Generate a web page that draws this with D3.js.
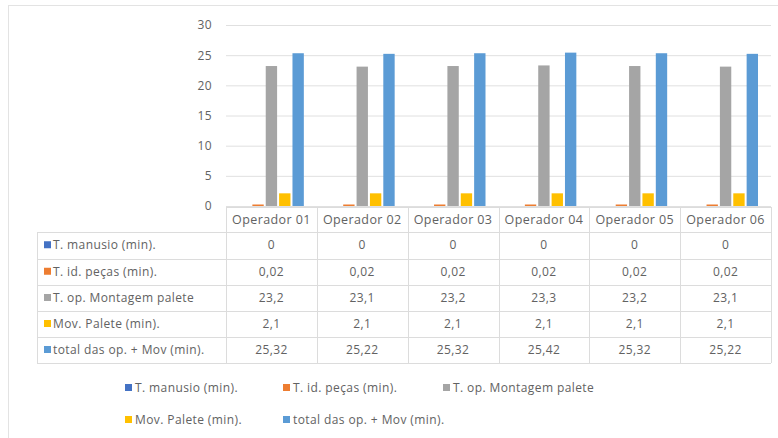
<!DOCTYPE html>
<html>
<head>
<meta charset="utf-8">
<script src="https://cdn.jsdelivr.net/npm/d3@7"></script>
<style>
  body { margin: 0; background: #fff; }
  text { font-family: "Open Sans", "Noto Sans", sans-serif; fill: #626262; letter-spacing: 0.4px; }
</style>
</head>
<body>
<div id="chart"></div>
<script>
// DATA
const operators = ["Operador 01", "Operador 02", "Operador 03", "Operador 04", "Operador 05", "Operador 06"]
const seriesNames = ["T. manusio (min).", "T. id. peças (min).", "T. op. Montagem palete", "Mov. Palete (min).", "total das op. + Mov (min)."]
const manusio = [0, 0, 0, 0, 0, 0]
const idPecas = [0.02, 0.02, 0.02, 0.02, 0.02, 0.02]
const montagem = [23.2, 23.1, 23.2, 23.3, 23.2, 23.1]
const movPalete = [2.1, 2.1, 2.1, 2.1, 2.1, 2.1]
const total = [25.32, 25.22, 25.32, 25.42, 25.32, 25.22]
const yTicks = [0, 5, 10, 15, 20, 25, 30]

const values = [manusio, idPecas, montagem, movPalete, total]
const colors = ["#4472c4", "#ed7d31", "#a5a5a5", "#ffc000", "#5b9bd5"]

const width = 778, height = 438

const svg = d3.select("#chart").append("svg")
    .attr("width", width)
    .attr("height", height)

// outer chart frame
svg.append("rect")
    .attr("x", 8.5).attr("y", 5.5)
    .attr("width", 800).attr("height", 500)
    .attr("fill", "none")
    .attr("stroke", "#e3e3e3")

// SCALES
const x0 = d3.scaleBand()
    .domain(operators)
    .range([226, 771])

const x1 = d3.scaleBand()
    .domain(seriesNames)
    .range([13, x0.bandwidth() - 13])
    .paddingInner(0.15)

const y = d3.scaleLinear()
    .domain([0, 30])
    .range([206, 25])

const color = d3.scaleOrdinal().domain(seriesNames).range(colors)

// GRIDLINES + Y AXIS
const yAxis = svg.append("g")
    .attr("transform", `translate(226,0)`)
    .call(d3.axisLeft(y).tickValues(yTicks).tickSize(-(771 - 226)).tickPadding(14))
yAxis.select(".domain").remove()
yAxis.selectAll(".tick line").attr("stroke", "#e0e0e0")
yAxis.selectAll(".tick text").attr("font-size", 12).style("fill", "#626262")
    .style("font-family", '"Open Sans", sans-serif')

// BARS
const groups = svg.append("g").selectAll("g")
    .data(operators)
    .join("g")
    .attr("transform", d => `translate(${x0(d)},0)`)

groups.selectAll("rect")
    .data((d, i) => seriesNames.map((s, k) => ({ s: s, v: values[k][i] })))
    .join("rect")
    .attr("x", d => x1(d.s))
    .attr("width", x1.bandwidth())
    .attr("y", d => d.v > 0 ? Math.min(y(d.v), y(0) - 1.5) : y(0))
    .attr("height", d => d.v > 0 ? Math.max(y(0) - y(d.v), 1.5) : 0)
    .attr("fill", d => color(d.s))

// DATA TABLE
const fmt = v => String(v).replace(".", ",")
const tableLeft = 37
const headerTop = 207
const rowTops = [232, 258.5, 285, 311, 337, 363]
const lineColor = "#dcdcdc"
const table = svg.append("g")

// header cells
table.selectAll(".hdr")
    .data(operators)
    .join("text")
    .attr("class", "hdr")
    .attr("x", d => x0(d) + x0.bandwidth() / 2)
    .attr("y", (headerTop + rowTops[0]) / 2 + 4)
    .attr("text-anchor", "middle")
    .attr("font-size", 12.5)
    .text(d => d)

// horizontal lines
table.append("line")
    .attr("x1", 226).attr("x2", 771)
    .attr("y1", headerTop + 0.5).attr("y2", headerTop + 0.5)
    .attr("stroke", lineColor)
table.selectAll(".hl")
    .data(rowTops)
    .join("line")
    .attr("x1", tableLeft).attr("x2", 771)
    .attr("y1", d => Math.round(d) + 0.5).attr("y2", d => Math.round(d) + 0.5)
    .attr("stroke", lineColor)

// vertical lines
const colEdges = operators.map(o => x0(o)).concat([771])
table.selectAll(".vl")
    .data(colEdges)
    .join("line")
    .attr("x1", d => Math.round(d) + 0.5).attr("x2", d => Math.round(d) + 0.5)
    .attr("y1", headerTop).attr("y2", rowTops[5])
    .attr("stroke", lineColor)
table.append("line")
    .attr("x1", tableLeft + 0.5).attr("x2", tableLeft + 0.5)
    .attr("y1", rowTops[0]).attr("y2", rowTops[5])
    .attr("stroke", lineColor)

// rows
const rows = table.selectAll(".row")
    .data(seriesNames)
    .join("g")
    .attr("transform", (d, k) => `translate(0,${(rowTops[k] + rowTops[k + 1]) / 2})`)

rows.append("rect")
    .attr("x", 44).attr("y", -4)
    .attr("width", 7).attr("height", 7)
    .attr("fill", d => color(d))

rows.append("text")
    .attr("x", 53).attr("y", 4)
    .attr("font-size", 12)
    .text(d => d)

rows.selectAll(".val")
    .data((d, k) => values[k].map((v, i) => ({ v: v, op: operators[i] })))
    .join("text")
    .attr("x", d => x0(d.op) + x0.bandwidth() / 2)
    .attr("y", 4)
    .attr("text-anchor", "middle")
    .attr("font-size", 12)
    .text(d => fmt(d.v))

// LEGEND
const legendPos = [[125, 388], [283, 388], [443, 388], [125, 420], [283, 420]]
const legend = svg.append("g").selectAll("g")
    .data(seriesNames)
    .join("g")
    .attr("transform", (d, k) => `translate(${legendPos[k][0]},${legendPos[k][1]})`)

legend.append("rect")
    .attr("x", 0).attr("y", -4)
    .attr("width", 7).attr("height", 7)
    .attr("fill", d => color(d))

legend.append("text")
    .attr("x", 10).attr("y", 4)
    .attr("font-size", 12)
    .text(d => d)
</script>
</body>
</html>
